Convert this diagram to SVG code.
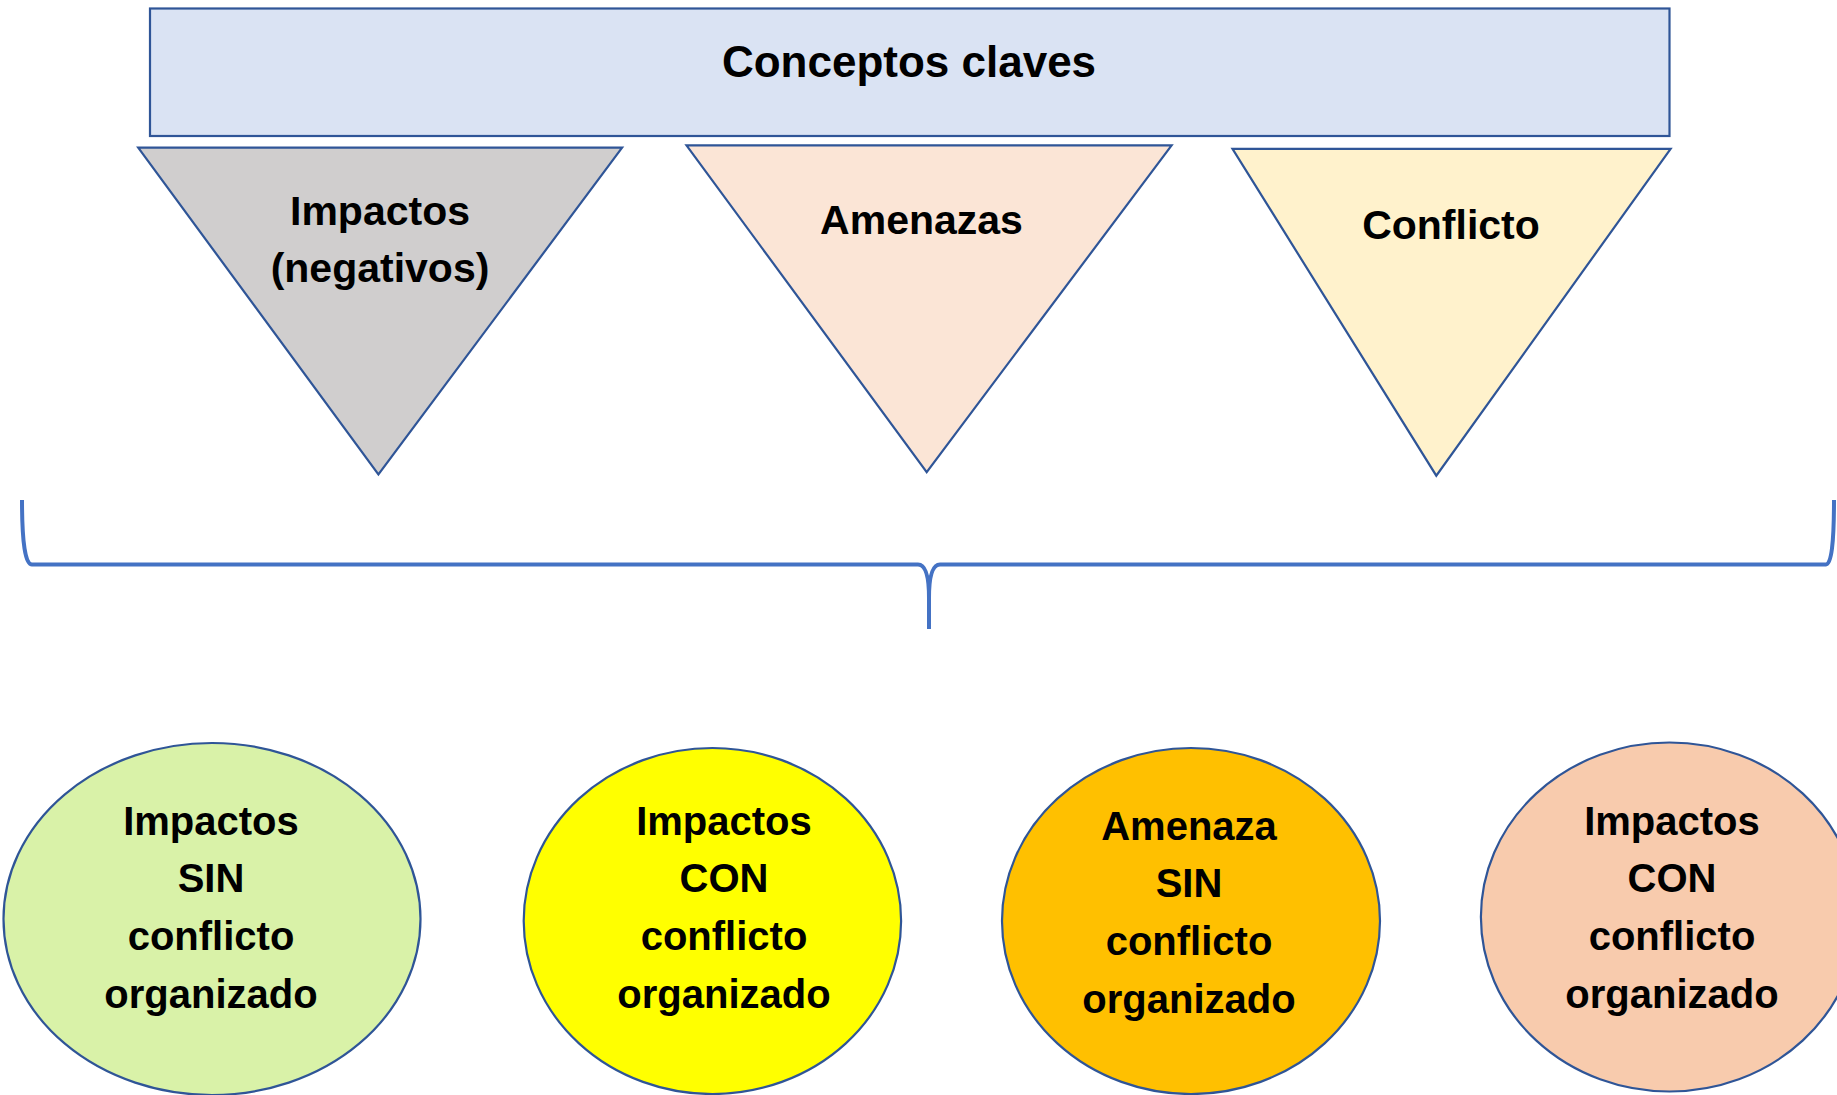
<svg xmlns="http://www.w3.org/2000/svg" width="1837" height="1095" viewBox="0 0 1837 1095">
<style>
.shape{stroke:#2F5597;stroke-width:2.2}
.t{font-family:"Liberation Sans",Arial,sans-serif;font-weight:bold;fill:#000;text-anchor:middle}
.tri{font-size:41px}
.ell{font-size:40px}
.brace{fill:none;stroke:#4472C4;stroke-width:4;stroke-linejoin:round}
</style>
<rect x="0" y="0" width="1837" height="1095" fill="#FFFFFF"/>
<g id="title">
<rect class="shape" x="150" y="8.5" width="1519.5" height="127.5" fill="#DAE3F3" stroke-width="3"/>
<text class="t" x="909" y="77" font-size="44">Conceptos claves</text>
</g>
<g id="tri-impactos">
<polygon class="shape" points="138.2,147.6 622.1,147.6 378.4,474.5" fill="#D0CECE"/>
<text class="t tri" x="380" y="225">Impactos</text>
<text class="t tri" x="380" y="282">(negativos)</text>
</g>
<g id="tri-amenazas">
<polygon class="shape" points="686.5,145.3 1171.6,145.3 926.7,472.1" fill="#FBE5D6"/>
<text class="t tri" x="921.5" y="234">Amenazas</text>
</g>
<g id="tri-conflicto">
<polygon class="shape" points="1232.5,148.8 1670.6,148.8 1436.3,475.7" fill="#FFF2CC"/>
<text class="t tri" x="1451" y="239">Conflicto</text>
</g>
<g id="connectors">
<path class="brace" d="M22,500 Q22,564.5 32,564.5 L918,564.5 Q929,564.5 929,598 L929,629 M929,598 Q929,564.5 940,564.5 L1826,564.5 Q1834,564.5 1834,500"/>
</g>
<g id="e1">
<ellipse class="shape" cx="212" cy="919" rx="208.5" ry="176" fill="#D9F2A8"/>
<text class="t ell" x="211" y="835">Impactos</text>
<text class="t ell" x="211" y="892">SIN</text>
<text class="t ell" x="211" y="950">conflicto</text>
<text class="t ell" x="211" y="1007.5">organizado</text>
</g>
<g id="e2">
<ellipse class="shape" cx="712.4" cy="921" rx="188.7" ry="173" fill="#FFFF00"/>
<text class="t ell" x="724" y="835">Impactos</text>
<text class="t ell" x="724" y="892">CON</text>
<text class="t ell" x="724" y="950">conflicto</text>
<text class="t ell" x="724" y="1007.5">organizado</text>
</g>
<g id="e3">
<ellipse class="shape" cx="1191" cy="921" rx="189" ry="173" fill="#FFC000"/>
<text class="t ell" x="1189" y="840">Amenaza</text>
<text class="t ell" x="1189" y="897">SIN</text>
<text class="t ell" x="1189" y="955">conflicto</text>
<text class="t ell" x="1189" y="1012.5">organizado</text>
</g>
<g id="e4">
<ellipse class="shape" cx="1669.5" cy="917" rx="188.6" ry="174.5" fill="#F8CBAD"/>
<text class="t ell" x="1672" y="835">Impactos</text>
<text class="t ell" x="1672" y="892">CON</text>
<text class="t ell" x="1672" y="950">conflicto</text>
<text class="t ell" x="1672" y="1007.5">organizado</text>
</g>
</svg>
